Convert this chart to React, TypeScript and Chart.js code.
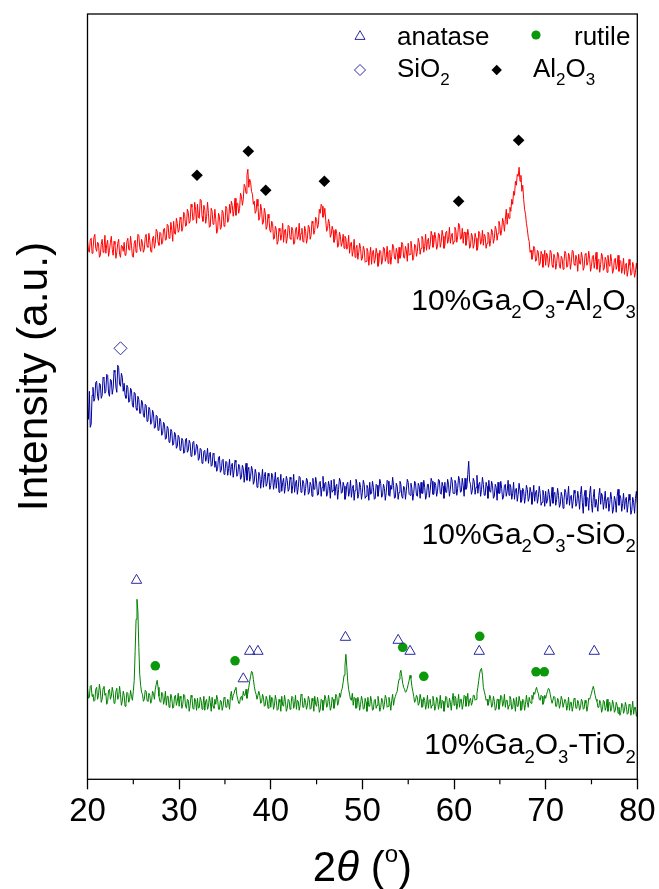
import React, { useEffect, useRef } from 'react';
import { Chart, registerables } from 'chart.js';

Chart.register(...registerables);

const FONT = "'Liberation Sans', Arial, Helvetica, sans-serif";

// 2θ sampling grid (degrees), 0.1° steps from 20 to 80
const twoTheta: number[] = Array.from({ length: 601 }, (_, i) => Math.round((20 + i * 0.1) * 10) / 10);

// Offset intensities (a.u.) (one row = 2°)
const alumina: number[] = [
  538, 529, 527, 539, 541, 526, 530, 542, 545, 531, 528, 537, 536, 522, 524, 535, 540, 527, 531, 544,
  526, 535, 539, 523, 529, 537, 543, 530, 524, 538, 535, 521, 527, 536, 540, 525, 522, 534, 533, 528,
  537, 524, 525, 538, 541, 530, 529, 543, 534, 523, 522, 536, 539, 527, 531, 545, 544, 532, 528, 540,
  536, 527, 530, 542, 545, 533, 532, 546, 539, 528, 527, 541, 543, 531, 536, 550, 548, 537, 534, 547,
  546, 535, 537, 550, 551, 539, 540, 555, 554, 541, 543, 557, 549, 538, 558, 546, 545, 561, 556, 547,
  549, 562, 560, 548, 552, 567, 565, 553, 554, 570, 567, 556, 558, 575, 572, 559, 560, 577, 569, 556,
  575, 562, 561, 580, 579, 563, 558, 574, 570, 556, 563, 577, 566, 552, 553, 571, 568, 555, 557, 570,
  560, 546, 549, 566, 563, 550, 552, 569, 567, 553, 555, 573, 571, 557, 559, 575, 566, 578, 574, 563,
  570, 581, 564, 576, 576, 566, 571, 586, 583, 574, 580, 595, 593, 586, 604, 610, 592, 600, 597, 588,
  585, 575, 578, 566, 568, 580, 573, 559, 562, 575, 569, 555, 557, 571, 566, 550, 553, 565, 561, 549,
  547, 558, 556, 540, 541, 553, 550, 535, 538, 551, 548, 539, 545, 556, 537, 549, 550, 536, 541, 554,
  553, 541, 540, 552, 549, 535, 536, 550, 552, 540, 543, 556, 539, 546, 551, 538, 537, 553, 548, 536,
  541, 554, 552, 540, 544, 558, 556, 545, 549, 562, 560, 551, 555, 570, 566, 575, 573, 562, 564, 571,
  559, 548, 551, 560, 556, 542, 545, 553, 549, 537, 540, 550, 546, 532, 534, 547, 543, 533, 537, 545,
  531, 543, 541, 530, 533, 544, 526, 536, 537, 523, 529, 540, 522, 531, 534, 520, 527, 536, 531, 519,
  521, 533, 530, 517, 518, 531, 528, 514, 524, 532, 515, 527, 529, 516, 520, 531, 526, 513, 517, 529,
  528, 515, 519, 532, 531, 518, 522, 533, 516, 527, 529, 515, 523, 535, 533, 521, 520, 531, 527, 516,
  532, 521, 524, 537, 535, 522, 521, 533, 529, 518, 536, 524, 525, 538, 531, 519, 522, 535, 534, 523,
  528, 541, 537, 525, 531, 543, 540, 527, 533, 545, 529, 538, 541, 530, 535, 548, 544, 532, 536, 547,
  541, 530, 533, 546, 545, 532, 537, 549, 543, 531, 534, 547, 548, 536, 540, 552, 536, 543, 546, 535,
  538, 552, 549, 537, 543, 556, 554, 540, 541, 551, 536, 547, 547, 534, 539, 550, 544, 531, 533, 546,
  543, 531, 535, 546, 541, 529, 532, 548, 546, 535, 538, 549, 534, 545, 543, 531, 536, 547, 545, 533,
  539, 550, 547, 536, 541, 553, 550, 539, 546, 558, 554, 544, 549, 561, 557, 548, 560, 570, 555, 566,
  561, 572, 568, 580, 575, 588, 584, 598, 594, 605, 603, 612, 598, 604, 588, 594, 580, 570, 565, 556,
  550, 542, 538, 527, 529, 520, 524, 533, 531, 518, 519, 529, 527, 514, 516, 528, 525, 512, 520, 529,
  514, 526, 524, 512, 517, 529, 527, 514, 512, 525, 522, 510, 516, 527, 525, 513, 511, 523, 521, 510,
  518, 528, 526, 512, 513, 526, 523, 510, 517, 529, 528, 515, 514, 524, 520, 508, 525, 516, 515, 527,
  522, 509, 512, 525, 526, 514, 517, 528, 521, 508, 513, 523, 524, 511, 518, 527, 510, 519, 520, 507,
  515, 526, 523, 509, 511, 522, 519, 507, 524, 515, 513, 525, 518, 506, 509, 520, 521, 510, 514, 524,
  508, 519, 518, 506, 512, 521, 505, 514, 516, 503, 509, 520, 514, 504, 506, 517, 513, 502, 507, 516,
  510,
];

const silica: number[] = [
  372, 360, 388, 352, 355, 384, 392, 378, 381, 397, 398, 383, 379, 396, 395, 381, 384, 402, 401, 386,
  388, 405, 404, 386, 383, 400, 399, 385, 391, 409, 407, 392, 387, 414, 412, 395, 393, 406, 402, 388,
  396, 384, 381, 394, 392, 377, 378, 391, 389, 374, 372, 387, 386, 371, 369, 383, 380, 366, 366, 379,
  377, 364, 362, 375, 374, 358, 359, 372, 370, 355, 357, 369, 366, 351, 352, 364, 363, 349, 350, 361,
  358, 344, 346, 357, 355, 340, 341, 353, 351, 337, 338, 350, 348, 334, 335, 347, 345, 331, 333, 344,
  342, 329, 331, 341, 339, 326, 327, 340, 341, 327, 329, 339, 336, 323, 325, 337, 338, 324, 327, 335,
  333, 319, 321, 331, 330, 316, 318, 328, 329, 318, 322, 331, 316, 325, 327, 313, 314, 326, 325, 312,
  318, 308, 311, 322, 323, 307, 309, 319, 320, 305, 307, 318, 317, 304, 311, 320, 304, 313, 316, 302,
  309, 319, 317, 303, 305, 315, 313, 300, 302, 314, 311, 297, 306, 316, 299, 309, 312, 298, 303, 313,
  309, 295, 298, 310, 306, 292, 294, 307, 304, 291, 300, 310, 292, 303, 307, 293, 296, 306, 303, 290,
  294, 306, 304, 290, 297, 307, 291, 300, 302, 287, 295, 305, 288, 297, 301, 286, 293, 303, 299, 288,
  290, 302, 300, 286, 294, 305, 287, 296, 299, 285, 292, 303, 302, 287, 289, 299, 296, 284, 291, 301,
  299, 285, 287, 297, 294, 283, 301, 290, 290, 302, 296, 284, 285, 297, 298, 283, 292, 303, 288, 296,
  297, 283, 286, 298, 293, 281, 299, 287, 289, 300, 284, 293, 295, 280, 290, 301, 298, 286, 287, 297,
  293, 280, 284, 295, 297, 283, 288, 299, 282, 291, 294, 279, 289, 300, 296, 281, 285, 297, 292, 280,
  287, 299, 295, 281, 283, 294, 291, 279, 297, 285, 286, 298, 292, 280, 281, 295, 294, 283, 289, 300,
  296, 282, 284, 295, 291, 279, 287, 299, 298, 284, 283, 294, 290, 302, 294, 281, 282, 296, 293, 280,
  287, 298, 295, 283, 281, 293, 292, 280, 289, 300, 297, 285, 284, 296, 291, 279, 286, 298, 296, 284,
  283, 296, 293, 281, 297, 286, 286, 299, 292, 280, 284, 295, 295, 282, 289, 301, 298, 285, 285, 297,
  294, 283, 288, 300, 299, 286, 285, 297, 293, 281, 297, 287, 287, 300, 295, 283, 290, 302, 298, 286,
  286, 299, 296, 284, 291, 303, 299, 287, 288, 301, 294, 283, 301, 290, 292, 305, 318, 298, 295, 285,
  289, 301, 298, 285, 292, 304, 286, 295, 297, 283, 290, 302, 295, 284, 284, 297, 293, 281, 299, 288,
  287, 298, 294, 281, 283, 295, 292, 279, 297, 286, 286, 298, 291, 280, 282, 294, 295, 283, 288, 299,
  284, 295, 292, 280, 286, 297, 280, 290, 291, 278, 285, 296, 289, 277, 279, 291, 288, 276, 283, 294,
  290, 278, 281, 292, 287, 275, 283, 294, 278, 287, 289, 276, 282, 293, 286, 274, 277, 289, 284, 273,
  288, 276, 279, 290, 285, 273, 281, 292, 276, 285, 287, 274, 280, 291, 284, 272, 275, 287, 283, 271,
  279, 290, 287, 275, 282, 293, 274, 283, 284, 271, 278, 289, 286, 273, 276, 288, 281, 270, 285, 293,
  277, 266, 283, 289, 273, 282, 281, 269, 286, 293, 276, 267, 282, 290, 272, 280, 280, 268, 284, 291,
  275, 286, 283, 270, 278, 288, 271, 280, 282, 268, 276, 287, 280, 266, 270, 283, 279, 267, 283, 290,
  274, 284, 281, 268, 276, 286, 270, 279, 282, 267, 275, 285, 279, 265, 269, 282, 277, 266, 281, 288,
  276,
];

const titania: number[] = [
  91, 81, 82, 93, 94, 83, 85, 78, 79, 90, 92, 80, 84, 95, 89, 77, 80, 91, 93, 84,
  86, 75, 78, 89, 90, 80, 83, 92, 87, 76, 77, 88, 91, 80, 82, 93, 85, 74, 78, 88,
  84, 73, 76, 87, 86, 77, 80, 89, 83, 79, 88, 99, 128, 160, 180, 168, 132, 105, 94, 87,
  85, 78, 80, 89, 88, 79, 78, 86, 84, 76, 79, 88, 86, 80, 90, 95, 99, 92, 83, 78,
  77, 87, 86, 75, 79, 88, 74, 83, 83, 72, 76, 85, 81, 71, 72, 83, 84, 74, 78, 86,
  73, 83, 81, 71, 75, 85, 84, 73, 71, 80, 79, 68, 74, 84, 82, 71, 70, 81, 78, 69,
  81, 71, 72, 82, 79, 70, 74, 83, 69, 78, 80, 70, 73, 83, 77, 68, 82, 73, 71, 80,
  75, 84, 80, 70, 70, 79, 78, 69, 73, 82, 81, 72, 72, 80, 77, 70, 83, 88, 79, 84,
  86, 90, 92, 84, 80, 76, 76, 82, 83, 79, 88, 84, 84, 90, 81, 86, 92, 98, 103, 108,
  107, 100, 93, 88, 85, 80, 80, 88, 84, 76, 77, 85, 82, 73, 74, 83, 80, 71, 76, 84,
  72, 82, 81, 70, 74, 84, 79, 69, 70, 80, 77, 68, 83, 74, 73, 84, 78, 68, 71, 80,
  79, 70, 73, 83, 82, 71, 75, 84, 70, 79, 78, 69, 74, 85, 84, 72, 72, 81, 77, 70,
  74, 83, 80, 70, 71, 81, 78, 68, 83, 75, 73, 82, 76, 67, 70, 80, 79, 69, 75, 84,
  81, 72, 74, 84, 78, 69, 72, 82, 80, 71, 76, 85, 83, 74, 77, 86, 82, 88, 91, 97,
  104, 114, 125, 112, 98, 90, 85, 80, 79, 86, 74, 82, 81, 71, 72, 82, 78, 69, 75, 83,
  79, 70, 71, 81, 77, 68, 82, 73, 73, 83, 78, 69, 70, 79, 80, 71, 74, 83, 77, 68,
  72, 81, 79, 70, 75, 84, 81, 72, 73, 82, 77, 69, 79, 85, 74, 80, 83, 86, 88, 95,
  100, 106, 109, 103, 96, 92, 90, 87, 88, 91, 95, 99, 104, 101, 93, 88, 83, 77, 79, 84,
  82, 74, 76, 85, 80, 72, 73, 82, 79, 70, 75, 84, 71, 79, 80, 71, 74, 83, 78, 69,
  73, 82, 80, 70, 75, 84, 71, 79, 78, 68, 74, 83, 82, 72, 72, 81, 77, 69, 79, 86,
  74, 83, 81, 70, 76, 85, 72, 80, 80, 70, 75, 84, 83, 73, 78, 86, 73, 79, 81, 74,
  77, 84, 84, 79, 80, 86, 92, 99, 106, 110, 111, 104, 92, 88, 84, 79, 80, 74, 77, 84,
  81, 72, 74, 83, 78, 69, 71, 80, 80, 70, 75, 84, 83, 73, 76, 85, 72, 79, 79, 70,
  74, 83, 80, 70, 71, 81, 77, 68, 82, 73, 73, 83, 78, 69, 70, 80, 79, 69, 75, 84,
  77, 72, 82, 78, 76, 84, 80, 87, 85, 89, 92, 88, 86, 80, 79, 84, 83, 75, 77, 84,
  81, 85, 88, 91, 90, 85, 80, 76, 76, 83, 82, 73, 73, 81, 79, 71, 75, 83, 80, 72,
  72, 80, 78, 69, 74, 82, 69, 77, 77, 68, 73, 81, 80, 71, 71, 79, 76, 69, 72, 80,
  78, 70, 71, 79, 76, 68, 73, 81, 80, 83, 86, 90, 93, 89, 84, 80, 78, 72, 72, 79,
  76, 67, 70, 79, 78, 69, 72, 80, 68, 76, 77, 68, 71, 79, 75, 67, 69, 77, 74, 66,
  72, 64, 67, 76, 75, 66, 69, 77, 73, 65, 66, 75, 74, 64, 70, 78, 65, 72, 72, 63,
  68,
];

// Phase markers
const anataseX: number[] = [25.35, 37.0, 37.7, 38.6, 48.15, 53.9, 55.2, 62.75, 70.4, 75.3];
const anataseY: number[] = [199, 100.5, 128, 128, 142, 139, 128, 128, 128, 128];
const rutileX: number[] = [27.4, 36.1, 54.4, 56.7, 62.8, 68.95, 69.85];
const rutileY: number[] = [113.5, 118.5, 132, 103, 143, 107.5, 107.5];
const silicaMarkX: number[] = [23.6];
const silicaMarkY: number[] = [431];
const aluminaMarkX: number[] = [31.95, 37.55, 39.45, 45.85, 60.5, 67.05];
const aluminaMarkY: number[] = [604, 628, 589, 598, 578, 639];

const xTicks: number[] = [20, 30, 40, 50, 60, 70, 80];

const pts = (xs: number[], ys: number[]) => xs.map((x, i) => ({ x, y: ys[i] }));

type Seg = { t: string; k?: 'sub' | 'sup' | 'it' };

function drawRich(
  ctx: CanvasRenderingContext2D,
  segs: Seg[],
  x: number,
  y: number,
  size: number,
  small: number,
  subShift: number,
  supShift: number,
  align: 'left' | 'right' | 'center'
) {
  ctx.save();
  ctx.textBaseline = 'alphabetic';
  ctx.textAlign = 'left';
  ctx.fillStyle = '#000';
  const fontFor = (s: Seg) =>
    `${s.k === 'it' ? 'italic ' : ''}${s.k === 'sub' || s.k === 'sup' ? small : size}px ${FONT}`;
  let total = 0;
  for (const s of segs) {
    ctx.font = fontFor(s);
    total += ctx.measureText(s.t).width;
  }
  let cx = align === 'right' ? x - total : align === 'center' ? x - total / 2 : x;
  for (const s of segs) {
    ctx.font = fontFor(s);
    const dy = s.k === 'sub' ? subShift : s.k === 'sup' ? -supShift : 0;
    ctx.fillText(s.t, cx, y + dy);
    cx += ctx.measureText(s.t).width;
  }
  ctx.restore();
}

const NAVY = '#2a2aa0';
const GREEN_MARK = '#0b990b';

const decorPlugin = {
  id: 'decor',
  afterDatasetsDraw(chart: any) {
    const { ctx, chartArea } = chart;
    const xs = chart.scales.x;
    ctx.save();
    ctx.strokeStyle = '#000';
    ctx.lineWidth = 1.3;
    ctx.strokeRect(chartArea.left, chartArea.top, chartArea.right - chartArea.left, chartArea.bottom - chartArea.top);
    ctx.lineWidth = 1.2;
    for (const t of xs.ticks) {
      if (t.value % 10 !== 0) {
        const px = xs.getPixelForValue(t.value);
        ctx.beginPath();
        ctx.moveTo(px, chartArea.bottom);
        ctx.lineTo(px, chartArea.bottom + 5);
        ctx.stroke();
      }
    }
    ctx.restore();
  },
  afterDraw(chart: any) {
    const { ctx, chartArea } = chart;
    const right = chartArea.right;
    drawRich(ctx, [{ t: '10%Ga' }, { t: '2', k: 'sub' }, { t: 'O' }, { t: '3', k: 'sub' }, { t: '-Al' }, { t: '2', k: 'sub' }, { t: 'O' }, { t: '3', k: 'sub' }], right - 1.5, 309.5, 30, 18.5, 8.5, 0, 'right');
    drawRich(ctx, [{ t: '10%Ga' }, { t: '2', k: 'sub' }, { t: 'O' }, { t: '3', k: 'sub' }, { t: '-SiO' }, { t: '2', k: 'sub' }], right - 1.5, 543.5, 30, 18.5, 8.5, 0, 'right');
    drawRich(ctx, [{ t: '10%Ga' }, { t: '2', k: 'sub' }, { t: 'O' }, { t: '3', k: 'sub' }, { t: '-TiO' }, { t: '2', k: 'sub' }], right - 1.5, 754, 30, 18.5, 8.5, 0, 'right');

    ctx.save();
    ctx.strokeStyle = NAVY;
    ctx.lineWidth = 1;
    const tr = 5.8;
    const tx = 360, ty = 36.5;
    ctx.beginPath();
    ctx.moveTo(tx, ty - tr);
    ctx.lineTo(tx + tr * Math.sin((2 * Math.PI) / 3), ty - tr * Math.cos((2 * Math.PI) / 3));
    ctx.lineTo(tx + tr * Math.sin((4 * Math.PI) / 3), ty - tr * Math.cos((4 * Math.PI) / 3));
    ctx.closePath();
    ctx.stroke();
    const dr = 5.5;
    ctx.beginPath();
    ctx.moveTo(360, 70 - dr);
    ctx.lineTo(360 + dr, 70);
    ctx.lineTo(360, 70 + dr);
    ctx.lineTo(360 - dr, 70);
    ctx.closePath();
    ctx.stroke();
    ctx.fillStyle = GREEN_MARK;
    ctx.beginPath();
    ctx.arc(536, 35, 4.6, 0, Math.PI * 2);
    ctx.fill();
    ctx.fillStyle = '#000';
    const fr = 5.2;
    ctx.beginPath();
    ctx.moveTo(496.7, 70 - fr);
    ctx.lineTo(496.7 + fr, 70);
    ctx.lineTo(496.7, 70 + fr);
    ctx.lineTo(496.7 - fr, 70);
    ctx.closePath();
    ctx.fill();
    ctx.restore();

    drawRich(ctx, [{ t: 'anatase' }], 397, 45, 26, 17, 8, 0, 'left');
    drawRich(ctx, [{ t: 'rutile' }], 574, 45, 26, 17, 8, 0, 'left');
    drawRich(ctx, [{ t: 'SiO' }, { t: '2', k: 'sub' }], 397, 77, 26, 17, 8, 0, 'left');
    drawRich(ctx, [{ t: 'Al' }, { t: '2', k: 'sub' }, { t: 'O' }, { t: '3', k: 'sub' }], 533, 77, 26, 17, 8, 0, 'left');

    const midX = (chartArea.left + chartArea.right) / 2;
    drawRich(ctx, [{ t: '2' }, { t: 'θ', k: 'it' }, { t: ' (' }, { t: 'o', k: 'sup' }, { t: ')' }], midX, 881, 42, 24, 0, 19, 'center');

    ctx.save();
    ctx.translate(47, 376.5);
    ctx.rotate(-Math.PI / 2);
    ctx.font = `42.5px ${FONT}`;
    ctx.fillStyle = '#000';
    ctx.textAlign = 'center';
    ctx.textBaseline = 'alphabetic';
    ctx.fillText('Intensity (a.u.)', 0, 0);
    ctx.restore();
  },
};

export default function App() {
  const ref = useRef<HTMLCanvasElement | null>(null);

  useEffect(() => {
    if (!ref.current) return;
    const chart = new Chart(ref.current, {
      type: 'line',
      data: {
        datasets: [
          {
            type: 'scatter',
            label: 'anatase',
            data: pts(anataseX, anataseY),
            pointStyle: 'triangle',
            pointRadius: 6,
            borderColor: NAVY,
            backgroundColor: 'rgba(0,0,0,0)',
            borderWidth: 1,
          } as any,
          {
            type: 'scatter',
            label: 'rutile',
            data: pts(rutileX, rutileY),
            pointStyle: 'circle',
            pointRadius: 4.8,
            borderWidth: 0,
            backgroundColor: GREEN_MARK,
            borderColor: GREEN_MARK,
          } as any,
          {
            type: 'scatter',
            label: 'SiO2',
            data: pts(silicaMarkX, silicaMarkY),
            pointStyle: 'rectRot',
            pointRadius: 6.5,
            borderWidth: 1,
            borderColor: NAVY,
            backgroundColor: 'rgba(0,0,0,0)',
          } as any,
          {
            type: 'scatter',
            label: 'Al2O3',
            data: pts(aluminaMarkX, aluminaMarkY),
            pointStyle: 'rectRot',
            pointRadius: 5.8,
            borderWidth: 0,
            backgroundColor: '#000',
            borderColor: '#000',
          } as any,
          {
            label: '10%Ga2O3-Al2O3',
            data: pts(twoTheta, alumina),
            borderColor: '#ff0000',
            borderWidth: 1,
            pointRadius: 0,
            tension: 0,
            fill: false,
          },
          {
            label: '10%Ga2O3-SiO2',
            data: pts(twoTheta, silica),
            borderColor: '#0000a0',
            borderWidth: 1,
            pointRadius: 0,
            tension: 0,
            fill: false,
          },
          {
            label: '10%Ga2O3-TiO2',
            data: pts(twoTheta, titania),
            borderColor: '#008000',
            borderWidth: 1,
            pointRadius: 0,
            tension: 0,
            fill: false,
          },
        ],
      },
      options: {
        animation: false,
        responsive: true,
        maintainAspectRatio: false,
        events: [],
        layout: { padding: { left: 87.5, right: 21.7, top: 14, bottom: 0 } },
        plugins: { legend: { display: false }, tooltip: { enabled: false }, title: { display: false } },
        scales: {
          x: {
            type: 'linear',
            position: 'bottom',
            min: 20,
            max: 80,
            afterFit: (s: any) => {
              s.height = 109.7;
            },
            afterBuildTicks: (s: any) => {
              const all: { value: number }[] = [];
              for (const v of xTicks) {
                all.push({ value: v });
                if (v < 80) all.push({ value: v + 5 });
              }
              s.ticks = all;
            },
            ticks: {
              autoSkip: false,
              maxRotation: 0,
              padding: 3,
              color: '#000',
              font: { family: FONT, size: 33 },
              callback: (v: any) => (Number(v) % 10 === 0 ? String(v) : ''),
            },
            grid: {
              drawOnChartArea: false,
              drawTicks: true,
              tickLength: 10,
              tickWidth: 1.3,
              tickColor: (c: any) => (c.tick && c.tick.value % 10 === 0 ? '#000' : 'rgba(0,0,0,0)'),
            },
            border: { display: false },
          },
          y: {
            type: 'linear',
            display: false,
            min: 0,
            max: 765.3,
          },
        },
      },
      plugins: [decorPlugin],
    });
    return () => chart.destroy();
  }, []);

  return (
    <div style={{ position: 'fixed', left: 0, top: 0, width: 659, height: 889, background: '#fff' }}>
      <canvas ref={ref} />
    </div>
  );
}
